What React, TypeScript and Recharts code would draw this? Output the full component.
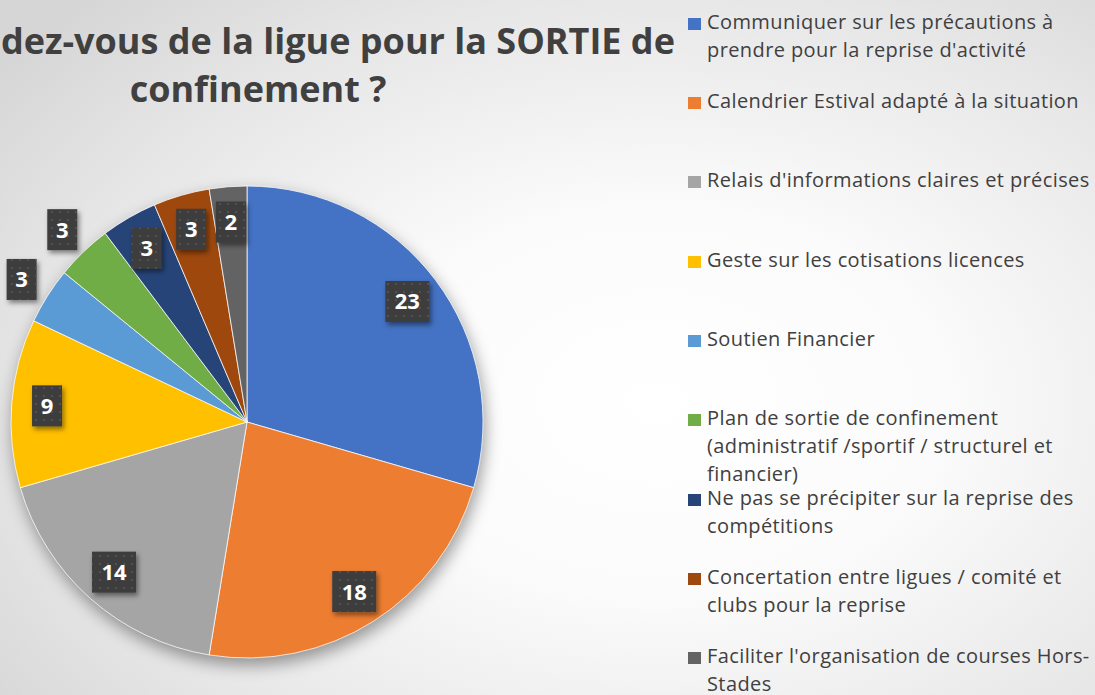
import { PieChart, Pie, Cell, Legend } from "recharts";

// reponses a la question "Qu'attendez-vous de la ligue pour la SORTIE de confinement ?"
const categories = [
  "Communiquer sur les précautions à prendre pour la reprise d'activité",
  "Calendrier Estival adapté à la situation",
  "Relais d'informations claires et précises",
  "Geste sur les cotisations licences",
  "Soutien Financier",
  "Plan de sortie de confinement (administratif /sportif / structurel et financier)",
  "Ne pas se précipiter sur la reprise des compétitions",
  "Concertation entre ligues / comité et clubs pour la reprise",
  "Faciliter l'organisation de courses Hors-Stades",
];
const values = [23, 18, 14, 9, 3, 3, 3, 3, 2];
const colors = [
  "#4472C4",
  "#ED7D31",
  "#A5A5A5",
  "#FFC000",
  "#5B9BD5",
  "#70AD47",
  "#264478",
  "#9E480E",
  "#636363",
];

const title = "Qu'attendez-vous de la ligue pour la SORTIE de";
const titleEnd = "confinement ?";

const data = categories.map((name, i) => ({ name, value: values[i] }));

// Excel "best fit": these two small slices get their label outside
const outsideLabels = new Set([4, 5]);

const RAD = Math.PI / 180;
const FONT = "'Open Sans', sans-serif";

function renderLabel(props: any) {
  const { cx, cy, midAngle, outerRadius, value, index } = props;
  const r = outerRadius * (outsideLabels.has(index) ? 1.13 : 0.85);
  const x = cx + r * Math.cos(-midAngle * RAD);
  const y = cy + r * Math.sin(-midAngle * RAD);
  const w = String(value).length > 1 ? 44 : 30;
  const h = 41;
  return (
    <g key={`lbl-${index}`}>
      <rect x={x - w / 2} y={y - h / 2} width={w} height={h} fill="#3d3d3d" filter="url(#lblShadow)" />
      <rect x={x - w / 2} y={y - h / 2} width={w} height={h} fill="url(#lblDots)" />
      <text
        x={x}
        y={y + 8}
        textAnchor="middle"
        fill="#ffffff"
        fontSize={22}
        fontWeight={700}
        fontFamily={FONT}
      >
        {value}
      </text>
    </g>
  );
}

// legend kept in the sheet's order (recharts would sort the payload)
function renderLegend() {
  return (
    <div style={{ position: "relative", width: 407, height: 695 }}>
      {categories.map((name, i) => {
        const baseline = 29.7 + 79.3 * i;
        return (
          <div key={name}>
            <span
              style={{
                position: "absolute",
                left: 0,
                top: baseline - 12,
                width: 13,
                height: 12,
                background: colors[i],
              }}
            />
            <div
              style={{
                position: "absolute",
                left: 19,
                top: baseline - 22,
                width: 392,
                fontFamily: FONT,
                fontSize: 20,
                letterSpacing: 0.4,
                lineHeight: "28px",
                color: "#404040",
              }}
            >
              {name}
            </div>
          </div>
        );
      })}
    </div>
  );
}

export default function App() {
  return (
    <div
      style={{
        position: "relative",
        width: 1095,
        height: 695,
        overflow: "hidden",
        background:
          "radial-gradient(ellipse 75% 80% at 60% 58%, #ffffff 0%, #fbfbfb 35%, #e6e6e6 75%, #d6d6d6 100%)",
      }}
    >
      <style>{`
        body { margin: 0; }
        .recharts-pie-sectors, .recharts-pie > .recharts-layer:first-child {
          filter: drop-shadow(2px 7px 8px rgba(0,0,0,0.38));
        }
      `}</style>
      <div
        style={{
          position: "absolute",
          left: 258 - 600,
          top: 17,
          width: 1200,
          textAlign: "center",
          fontFamily: FONT,
          fontWeight: 700,
          fontSize: 36,
          lineHeight: "48px",
          color: "#404040",
          whiteSpace: "nowrap",
        }}
      >
        <div>{title}</div>
        <div>{titleEnd}</div>
      </div>
      <PieChart width={1095} height={695} margin={{ top: 0, right: 0, bottom: 0, left: 0 }}>
        <defs>
          <filter id="lblShadow" x="-50%" y="-50%" width="200%" height="200%">
            <feDropShadow dx="2" dy="3" stdDeviation="2.5" floodColor="#000" floodOpacity="0.45" />
          </filter>
          <pattern id="lblDots" width="8" height="8" patternUnits="userSpaceOnUse">
            <circle cx="4" cy="4" r="1" fill="#585858" />
          </pattern>
        </defs>
        <Pie
          data={data}
          dataKey="value"
          nameKey="name"
          cx={247}
          cy={422}
          outerRadius={236}
          startAngle={90}
          endAngle={-270}
          stroke="#ffffff"
          strokeWidth={0.75}
          label={renderLabel}
          labelLine={false}
          isAnimationActive={false}
        >
          {data.map((d, i) => (
            <Cell key={d.name} fill={colors[i]} />
          ))}
        </Pie>
        <Legend
          layout="vertical"
          align="right"
          verticalAlign="top"
          content={renderLegend}
          wrapperStyle={{ position: "absolute", left: 688, top: 0, width: 407, height: 695 }}
        />
      </PieChart>
    </div>
  );
}
